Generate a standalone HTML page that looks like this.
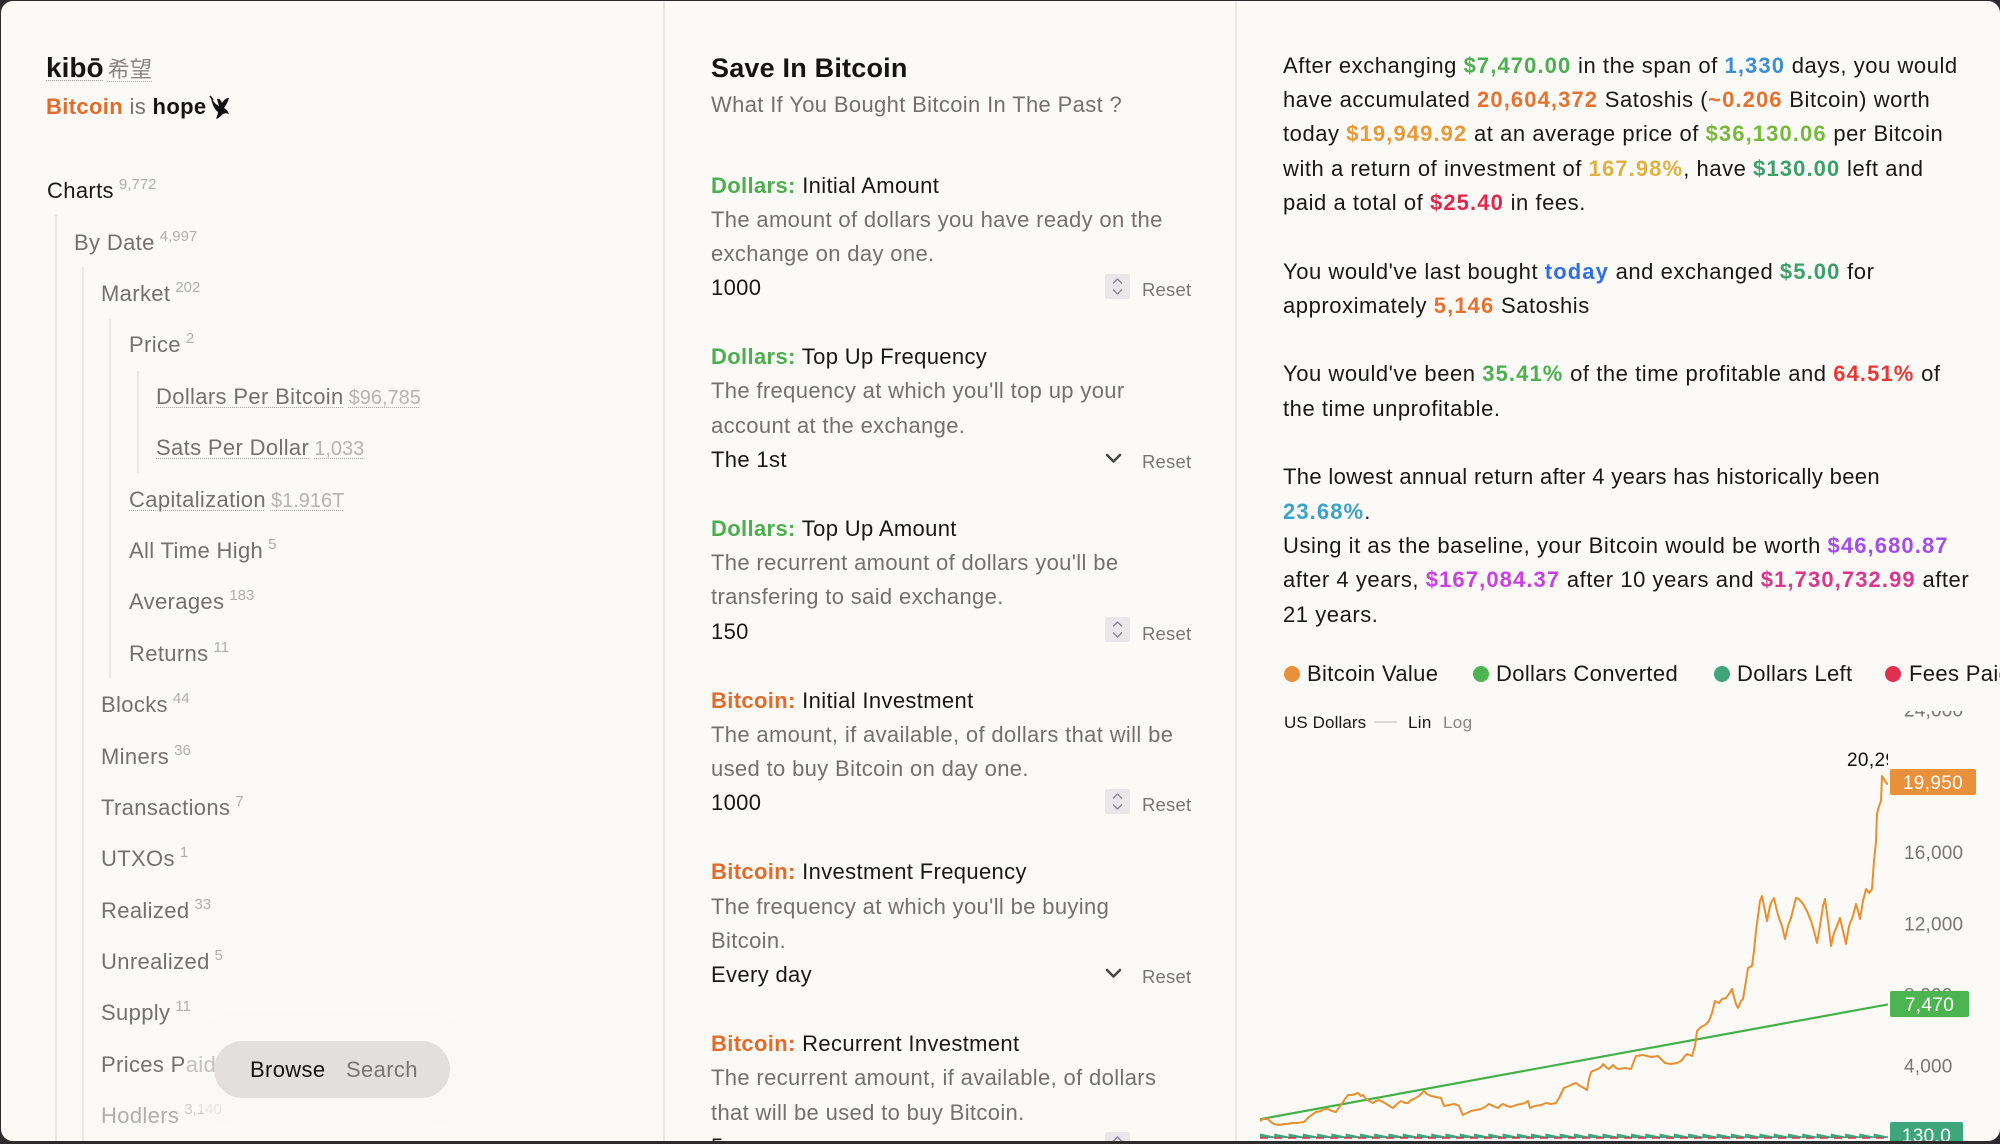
<!DOCTYPE html>
<html><head><meta charset="utf-8">
<style>
*{margin:0;padding:0;box-sizing:border-box}
html,body{width:2000px;height:1144px;overflow:hidden;background:#2c2c2c}
body{font-family:"Liberation Sans","Noto Sans CJK JP",sans-serif;letter-spacing:0.35px}
.win{position:absolute;left:1px;top:1px;width:1999px;height:1140px;background:#fcfaf7;border-radius:12px;overflow:hidden}
.a{position:absolute;white-space:nowrap}
.t{font-size:22px;line-height:34.3px}
.ti{position:absolute;white-space:nowrap;font-size:22px;line-height:34.3px;color:#75706c}
.ti sup{font-size:15px;color:#b3aeaa;vertical-align:baseline;position:relative;top:-9px;margin-left:5px;letter-spacing:0}
.lk{text-decoration:underline dotted #aaa5a1;text-decoration-thickness:1px;text-underline-offset:3px}
.lc{font-size:20px;color:#b8b3af;margin-left:5px;letter-spacing:0}
.vl{position:absolute;width:2px;background:#ebe7e3}
.gray{color:#75706c}
.blk{color:#1a1816}
b{font-weight:700}
.rp{letter-spacing:0.55px}
.rp b{letter-spacing:1.1px}
.reset{position:absolute;font-size:18.5px;line-height:18.5px;color:#7a7572;letter-spacing:0.2px}
</style></head><body>
<div class="win">

<!-- dividers -->
<div class="vl" style="left:662px;top:0;height:1140px"></div>
<div class="vl" style="left:1234px;top:0;height:1140px"></div>

<!-- ===== LEFT PANEL ===== -->
<div class="a" style="left:45px;top:53.3px;font-size:28px;line-height:28px;color:#161412">
 <span style="font-weight:700;letter-spacing:0;text-decoration:underline dotted #999;text-decoration-thickness:1px;text-underline-offset:3px">kibō</span><span style="font-size:22px;color:#8a8580;margin-left:4px;text-decoration:underline dotted #aaa;text-decoration-thickness:1px;text-underline-offset:4px;font-family:'Noto Sans CJK JP',sans-serif">希望</span>
</div>
<div class="a t" style="left:45px;top:89.2px;color:#161412"><b style="color:#e06c2a">Bitcoin</b> <span class="gray">is</span> <b>hope</b></div>
<svg class="a" style="left:206px;top:93px" width="28" height="28" viewBox="0 0 28 28">
 <path d="M4 3 C6 7 8 10 12 12 L10 5 C12 4 14 6 15 9 C17 6 19 4 22 4 C21 8 19 11 17 14 C19 15 21 17 22 20 C20 19 18 19 16 20 C14 22 12 24 9 25 C10 22 11 20 11 18 C8 16 5 11 4 3 Z" fill="#111"/>
 <path d="M3 2 L6 6" stroke="#111" stroke-width="1.5"/>
</svg>

<!-- tree guide lines -->
<div class="vl" style="left:54px;top:214px;height:930px;width:2px"></div>
<div class="vl" style="left:81px;top:266px;height:880px;width:2px"></div>
<div class="vl" style="left:108px;top:318px;height:359px;width:2px"></div>
<div class="vl" style="left:136px;top:370px;height:102px;width:2px"></div>

<div class="ti" style="left:46px;top:173.2px;color:#1a1816">Charts<sup>9,772</sup></div>
<div class="ti" style="left:73px;top:224.6px">By Date<sup>4,997</sup></div>
<div class="ti" style="left:100px;top:276px">Market<sup>202</sup></div>
<div class="ti" style="left:128px;top:327.4px">Price<sup>2</sup></div>
<div class="ti" style="left:155px;top:378.8px"><span class="lk">Dollars Per Bitcoin</span><span class="lc lk">$96,785</span></div>
<div class="ti" style="left:155px;top:430.2px"><span class="lk">Sats Per Dollar</span><span class="lc lk">1,033</span></div>
<div class="ti" style="left:128px;top:481.5px"><span class="lk">Capitalization</span><span class="lc lk">$1.916T</span></div>
<div class="ti" style="left:128px;top:532.9px">All Time High<sup>5</sup></div>
<div class="ti" style="left:128px;top:584.3px">Averages<sup>183</sup></div>
<div class="ti" style="left:128px;top:635.7px">Returns<sup>11</sup></div>
<div class="ti" style="left:100px;top:687.1px">Blocks<sup>44</sup></div>
<div class="ti" style="left:100px;top:738.5px">Miners<sup>36</sup></div>
<div class="ti" style="left:100px;top:789.9px">Transactions<sup>7</sup></div>
<div class="ti" style="left:100px;top:841.3px">UTXOs<sup>1</sup></div>
<div class="ti" style="left:100px;top:892.7px">Realized<sup>33</sup></div>
<div class="ti" style="left:100px;top:944.1px">Unrealized<sup>5</sup></div>
<div class="ti" style="left:100px;top:995.4px">Supply<sup>11</sup></div>
<div class="ti" style="left:100px;top:1046.8px">Prices Paid<sup>12</sup></div>
<div class="ti" style="left:100px;top:1098.2px;color:#b3aeaa">Hodlers<sup style="color:#cfcac6">3,140</sup></div>

<!-- pill -->
<div class="a" style="left:213px;top:1040px;width:236px;height:57px;border-radius:29px;background:#e3dfdc;box-shadow:0 0 0 30px rgba(250,248,245,0.6)"></div>
<div class="a" style="left:249px;top:1058.4px;font-size:22px;line-height:22px;color:#141210">Browse</div>
<div class="a" style="left:345px;top:1058.4px;font-size:22px;line-height:22px;color:#7a7572">Search</div>

<!-- ===== MIDDLE PANEL ===== -->
<div class="a" style="left:710px;top:54px;font-size:27px;line-height:27px;font-weight:700;color:#161412;letter-spacing:0.2px">Save In Bitcoin</div>
<div class="a t gray" style="left:710px;top:87.2px">What If You Bought Bitcoin In The Past ?</div>

<div class="a t" style="left:710px;top:167.5px">
 <div><b style="color:#4cae4f">Dollars:</b> <span class="blk">Initial Amount</span></div>
 <div class="gray">The amount of dollars you have ready on the</div>
 <div class="gray">exchange on day one.</div>
 <div class="blk">1000</div>
</div>
<div class="a t" style="left:710px;top:339.2px">
 <div><b style="color:#4cae4f">Dollars:</b> <span class="blk">Top Up Frequency</span></div>
 <div class="gray">The frequency at which you'll top up your</div>
 <div class="gray">account at the exchange.</div>
 <div class="blk">The 1st</div>
</div>
<div class="a t" style="left:710px;top:510.9px">
 <div><b style="color:#4cae4f">Dollars:</b> <span class="blk">Top Up Amount</span></div>
 <div class="gray">The recurrent amount of dollars you'll be</div>
 <div class="gray">transfering to said exchange.</div>
 <div class="blk">150</div>
</div>
<div class="a t" style="left:710px;top:682.6px">
 <div><b style="color:#e06c2a">Bitcoin:</b> <span class="blk">Initial Investment</span></div>
 <div class="gray">The amount, if available, of dollars that will be</div>
 <div class="gray">used to buy Bitcoin on day one.</div>
 <div class="blk">1000</div>
</div>
<div class="a t" style="left:710px;top:854.3px">
 <div><b style="color:#e06c2a">Bitcoin:</b> <span class="blk">Investment Frequency</span></div>
 <div class="gray">The frequency at which you'll be buying</div>
 <div class="gray">Bitcoin.</div>
 <div class="blk">Every day</div>
</div>
<div class="a t" style="left:710px;top:1026px">
 <div><b style="color:#e06c2a">Bitcoin:</b> <span class="blk">Recurrent Investment</span></div>
 <div class="gray">The recurrent amount, if available, of dollars</div>
 <div class="gray">that will be used to buy Bitcoin.</div>
 <div class="blk">5</div>
</div>

<!-- controls -->
<svg class="a" style="left:0;top:0" width="1240" height="1144">
 <g fill="#e9e7ea">
  <rect x="1104" y="273" width="25" height="25" rx="2"/>
  <rect x="1104" y="616" width="25" height="25" rx="2"/>
  <rect x="1104" y="788" width="25" height="25" rx="2"/>
  <rect x="1104" y="1131" width="25" height="25" rx="2"/>
 </g>
 <g fill="none" stroke="#8a8690" stroke-width="1.4" stroke-linecap="round" stroke-linejoin="round">
  <path d="M1112.5 282 L1116.5 278 L1120.5 282 M1112.5 289 L1116.5 293 L1120.5 289"/>
  <path d="M1112.5 625 L1116.5 621 L1120.5 625 M1112.5 632 L1116.5 636 L1120.5 632"/>
  <path d="M1112.5 797 L1116.5 793 L1120.5 797 M1112.5 804 L1116.5 808 L1120.5 804"/>
  <path d="M1112.5 1140 L1116.5 1136 L1120.5 1140"/>
 </g>
 <g fill="none" stroke="#4a4644" stroke-width="2.6" stroke-linecap="round" stroke-linejoin="round">
  <path d="M1106 454 L1112.5 460.5 L1119 454"/>
  <path d="M1106 969 L1112.5 975.5 L1119 969"/>
 </g>
</svg>
<div class="reset" style="left:1141px;top:280.3px">Reset</div>
<div class="reset" style="left:1141px;top:452px">Reset</div>
<div class="reset" style="left:1141px;top:623.7px">Reset</div>
<div class="reset" style="left:1141px;top:795.4px">Reset</div>
<div class="reset" style="left:1141px;top:967.1px">Reset</div>
<div class="reset" style="left:1141px;top:1138.8px">Reset</div>

<!-- ===== RIGHT PANEL ===== -->
<div class="a t blk rp" style="left:1282px;top:47.8px">
 <div>After exchanging <b style="color:#4cb050">$7,470.00</b> in the span of <b style="color:#3b8fd9">1,330</b> days, you would</div>
 <div>have accumulated <b style="color:#e5732f">20,604,372</b> Satoshis (<b style="color:#e5732f">~0.206</b> Bitcoin) worth</div>
 <div>today <b style="color:#e89a38">$19,949.92</b> at an average price of <b style="color:#78b83a">$36,130.06</b> per Bitcoin</div>
 <div>with a return of investment of <b style="color:#e0b040">167.98%</b>, have <b style="color:#3da06a">$130.00</b> left and</div>
 <div>paid a total of <b style="color:#e0284e">$25.40</b> in fees.</div>
 <div>&nbsp;</div>
 <div>You would've last bought <b style="color:#2f6ee6">today</b> and exchanged <b style="color:#3da06a">$5.00</b> for</div>
 <div>approximately <b style="color:#e5732f">5,146</b> Satoshis</div>
 <div>&nbsp;</div>
 <div>You would've been <b style="color:#4cb050">35.41%</b> of the time profitable and <b style="color:#e53935">64.51%</b> of</div>
 <div>the time unprofitable.</div>
 <div>&nbsp;</div>
 <div style="letter-spacing:0.35px">The lowest annual return after 4 years has historically been</div>
 <div><b style="color:#3ba3c9">23.68%</b>.</div>
 <div>Using it as the baseline, your Bitcoin would be worth <b style="color:#a24ded">$46,680.87</b></div>
 <div>after 4 years, <b style="color:#c93fe0">$167,084.37</b> after 10 years and <b style="color:#d9368f">$1,730,732.99</b> after</div>
 <div>21 years.</div>
</div>

<!-- legend -->
<svg class="a" style="left:1240px;top:660px" width="760" height="30">
 <circle cx="51" cy="13" r="8" fill="#e8913a"/>
 <circle cx="240" cy="13" r="8" fill="#4cb551"/>
 <circle cx="481" cy="13" r="8" fill="#3fa57a"/>
 <circle cx="652" cy="13" r="8" fill="#e0304e"/>
</svg>
<div class="a blk" style="left:1306px;top:662.4px;font-size:22px;line-height:22px">Bitcoin Value</div>
<div class="a blk" style="left:1495px;top:662.4px;font-size:22px;line-height:22px">Dollars Converted</div>
<div class="a blk" style="left:1736px;top:662.4px;font-size:22px;line-height:22px">Dollars Left</div>
<div class="a blk" style="left:1908px;top:662.4px;font-size:22px;line-height:22px">Fees Paid</div>

<div class="a blk" style="left:1283px;top:712.6px;font-size:17px;line-height:17px;letter-spacing:0.1px">US Dollars</div>
<div class="a" style="left:1373px;top:720px;width:23px;height:1.5px;background:#dcd8d4"></div>
<div class="a blk" style="left:1407px;top:712.6px;font-size:17px;line-height:17px">Lin</div>
<div class="a" style="left:1442px;top:712.6px;font-size:17px;line-height:17px;color:#8a8580">Log</div>

<!-- chart -->
<svg class="a" style="left:1240px;top:710px" width="760" height="431">
 <defs>
  <clipPath id="plot"><rect x="1259" y="700" width="628" height="450"/></clipPath>
  <pattern id="saw" patternUnits="userSpaceOnUse" x="1259" y="1131" width="14.27" height="7">
   <path d="M0 1.5 L14.27 4.5 L14.27 7 L0 7 Z" fill="#3fa57a"/>
  </pattern>
 </defs>
 <g transform="translate(-1240,-710)">
  <g font-family="Liberation Sans, sans-serif" font-size="19" fill="#7a7572" letter-spacing="0.2">
   <text x="1903" y="715.5">24,000</text>
   <text x="1903" y="786.5">20,000</text>
   <text x="1903" y="858">16,000</text>
   <text x="1903" y="929.5">12,000</text>
   <text x="1903" y="1000.5">8,000</text>
   <text x="1903" y="1071.5">4,000</text>
  </g>
  <g clip-path="url(#plot)">
   <rect x="1259" y="1131" width="628" height="6" fill="url(#saw)"/>
   <line x1="1259" y1="1137" x2="1887" y2="1137" stroke="#e0304e" stroke-width="1.4" stroke-dasharray="8 6"/>
   <line x1="1259" y1="1118.2" x2="1887" y2="1003.4" stroke="#44b04a" stroke-width="2.2"/>
   <polyline fill="none" stroke="#e8902f" stroke-width="2" stroke-linejoin="round" points="1259,1120 1262,1118 1267,1118 1270,1121 1273,1123 1278,1124 1283,1123 1287,1123 1290,1122 1296,1122 1303,1121 1306,1118 1308,1116 1312,1113 1315,1111 1320,1110 1323,1108 1327,1108 1331,1110 1335,1111 1337,1108 1340,1104 1344,1098 1347,1094 1351,1094 1354,1093 1357,1092 1360,1095 1362,1094 1365,1098 1368,1100 1372,1102 1375,1100 1378,1099 1382,1101 1387,1104 1390,1106 1392,1107 1396,1103 1400,1100 1404,1102 1407,1102 1410,1099 1413,1098 1418,1095 1423,1090 1426,1093 1430,1095 1435,1096 1440,1097 1443,1105 1448,1104 1453,1103 1456,1104 1458,1105 1460,1110 1462,1114 1466,1112 1470,1110 1475,1109 1480,1108 1484,1106 1488,1103 1492,1105 1497,1107 1500,1104 1502,1103 1506,1105 1510,1106 1515,1104 1520,1103 1524,1102 1527,1100 1529,1107 1534,1105 1540,1104 1545,1102 1550,1103 1555,1102 1558,1097 1561,1091 1563,1087 1568,1085 1572,1083 1575,1082 1579,1085 1583,1087 1586,1089 1588,1078 1590,1071 1594,1069 1597,1068 1600,1066 1602,1063 1605,1066 1608,1068 1612,1064 1615,1067 1618,1068 1624,1067 1630,1068 1633,1060 1635,1055 1642,1054 1650,1056 1657,1055 1660,1058 1664,1062 1670,1063 1676,1062 1680,1060 1684,1055 1686,1053 1691,1055 1694,1045 1696,1030 1700,1026 1704,1024 1708,1020 1711,1012 1714,1000 1718,1002 1721,998 1725,997 1728,993 1731,988 1733,996 1735,1003 1737,1007 1740,1000 1742,998 1745,980 1747,967 1751,965 1753,950 1755,930 1757,915 1759,900 1761,895 1763,905 1766,920 1769,905 1771,900 1773,897 1776,910 1778,917 1781,925 1784,938 1787,925 1790,917 1793,905 1795,897 1798,898 1802,903 1806,910 1810,920 1813,930 1816,942 1819,925 1822,905 1824,898 1827,920 1830,945 1833,932 1836,925 1839,917 1842,930 1845,943 1848,925 1852,915 1855,903 1857,910 1859,918 1862,900 1865,888 1868,892 1871,888 1873,860 1875,840 1876,813 1878,805 1880,800 1881,775 1883,778 1884,780 1886,783 1887,782"/>
   <text x="1846" y="765" font-family="Liberation Sans, sans-serif" font-size="19" fill="#111">20,295</text>
  </g>
  <rect x="1889" y="768" width="86" height="26" rx="2" fill="#e8913a"/>
  <text x="1932" y="788" font-family="Liberation Sans, sans-serif" font-size="19" fill="#fff" text-anchor="middle">19,950</text>
  <rect x="1889" y="990" width="79" height="26" rx="2" fill="#4cb551"/>
  <text x="1928.5" y="1010" font-family="Liberation Sans, sans-serif" font-size="19" fill="#fff" text-anchor="middle">7,470</text>
  <rect x="1889" y="1121" width="73" height="26" rx="2" fill="#3fa57a"/>
  <text x="1925.5" y="1141" font-family="Liberation Sans, sans-serif" font-size="19" fill="#fff" text-anchor="middle">130.0</text>
 </g>
</svg>

</div>
</body></html>
